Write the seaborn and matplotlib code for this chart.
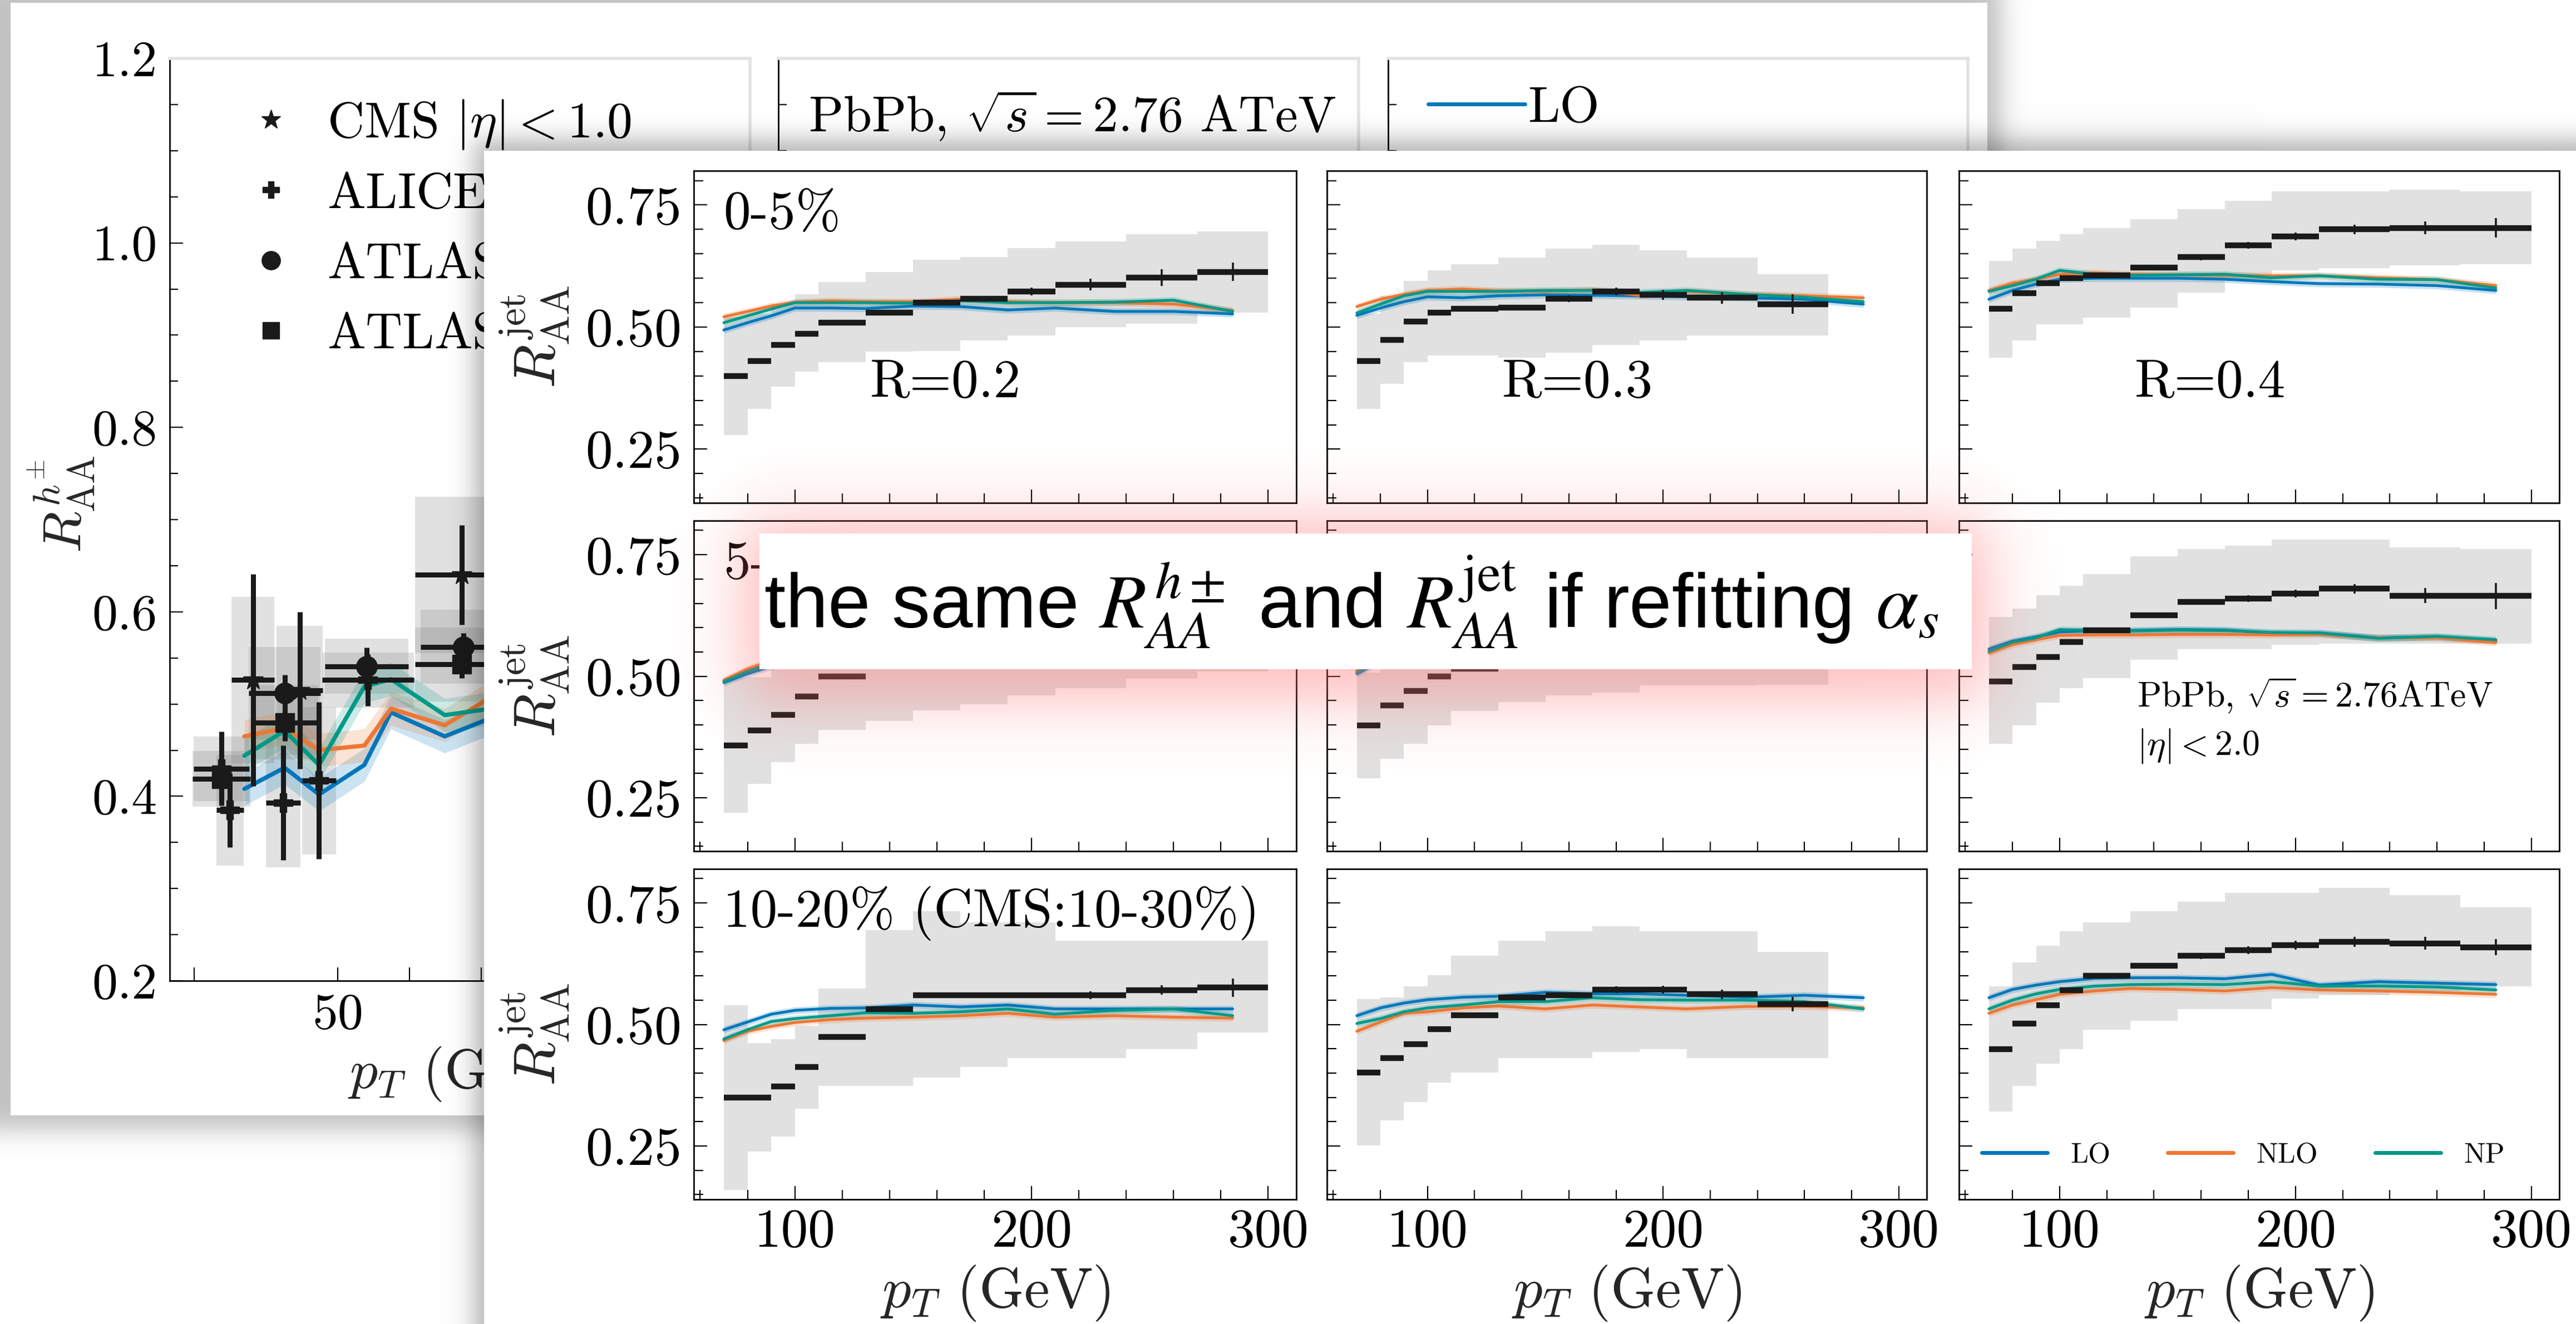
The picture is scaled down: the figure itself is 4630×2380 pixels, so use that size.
import numpy as np
import pandas as pd
import matplotlib
matplotlib.use("Agg")
import matplotlib.pyplot as plt
import seaborn as sns
from matplotlib.patches import Rectangle
from matplotlib.lines import Line2D
from matplotlib import font_manager

# ======================= DATA =======================
# ---- back figure: charged hadron R_AA (visible part) ----
cms_pt = [38.2, 44.7, 67.3]
cms_raa = [0.526, 0.515, 0.640]
cms_xerr = [3.0, 3.2, 6.5]
cms_err = [0.115, 0.085, 0.054]
cms_sys = [0.09, 0.07, 0.085]

alice_pt = [33.8, 35.0, 42.4, 47.4, 54.2]
alice_raa = [0.430, 0.385, 0.393, 0.417, 0.526]
alice_xerr = [3.9, 1.9, 2.4, 2.4, 6.4]
alice_err = [0.04, 0.04, 0.062, 0.085, 0.028]
alice_sys = [0.035, 0.06, 0.07, 0.08, 0.03]

atlas1_pt = [42.6, 54.0, 67.5]
atlas1_raa = [0.512, 0.541, 0.562]
atlas1_xerr = [5.0, 5.8, 6.0]
atlas1_err = [0.02, 0.02, 0.015]
atlas1_sys = [0.05, 0.03, 0.04]

atlas2_pt = [33.8, 42.6, 67.3]
atlas2_raa = [0.419, 0.480, 0.543]
atlas2_xerr = [4.0, 4.7, 6.5]
atlas2_err = [0.02, 0.02, 0.015]
atlas2_sys = [0.03, 0.04, 0.04]

had_th_pt = [37.0, 42.6, 47.4, 53.7, 57.4, 64.9, 70.4, 76.0]
had_lo = [0.408, 0.431, 0.402, 0.434, 0.491, 0.465, 0.482, 0.490]
had_nlo = [0.465, 0.474, 0.450, 0.455, 0.495, 0.477, 0.503, 0.510]
had_np = [0.444, 0.471, 0.434, 0.519, 0.527, 0.488, 0.494, 0.500]

HAD_LEG_LABELS = [r"CMS $|\eta| < 1.0$", r"ALICE $|\eta| < 0.8$",
                  r"ATLAS $|\eta| < 2.0$", r"ATLAS $|\eta| < 1.0$"]
HAD_YTICKS = [0.2, 0.4, 0.6, 0.8, 1.0, 1.2]
HAD_YTICKLABELS = ["0.2", "0.4", "0.6", "0.8", "1.0", "1.2"]
HAD_XTICKS = [30, 50, 60, 70, 80, 90, 100]
HAD_XTICKLABELS = ["", "50", "", "", "", "", "100"]

# ---- front figure: jet R_AA ----
EDGES_A = [70, 80, 90, 100, 110, 130, 150, 170, 190, 210, 240, 270, 300]
EDGES_B = [70, 80, 90, 100, 110, 130, 150, 170, 190, 210, 240, 270]
THEORY_PT = [70, 80, 90, 100, 115, 130, 150, 170, 190, 210, 235, 260, 285]

r1c1_y = [0.400, 0.430, 0.463, 0.486, 0.509, 0.530, 0.550, 0.558, 0.573, 0.587, 0.601, 0.613]
r1c1_err = [0.004, 0.004, 0.004, 0.005, 0.005, 0.005, 0.006, 0.006, 0.008, 0.012, 0.017, 0.019]
r1c1_sys_lo = [0.279, 0.333, 0.378, 0.409, 0.428, 0.450, 0.451, 0.473, 0.483, 0.500, 0.507, 0.529]
r1c1_sys_hi = [0.521, 0.527, 0.548, 0.567, 0.592, 0.613, 0.638, 0.644, 0.662, 0.675, 0.690, 0.696]
r1c1_lo = [0.494, 0.509, 0.523, 0.539, 0.539, 0.538, 0.543, 0.542, 0.535, 0.539, 0.532, 0.532, 0.527]
r1c1_nlo = [0.521, 0.532, 0.543, 0.551, 0.554, 0.552, 0.552, 0.557, 0.552, 0.550, 0.550, 0.547, 0.534]
r1c1_np = [0.509, 0.523, 0.537, 0.550, 0.550, 0.550, 0.549, 0.554, 0.550, 0.550, 0.551, 0.555, 0.532]

r1c2_y = [0.430, 0.474, 0.511, 0.529, 0.537, 0.540, 0.558, 0.573, 0.566, 0.560, 0.547]
r1c2_err = [0.004, 0.004, 0.004, 0.005, 0.005, 0.006, 0.007, 0.008, 0.010, 0.012, 0.020]
r1c2_sys_lo = [0.333, 0.384, 0.428, 0.442, 0.442, 0.437, 0.447, 0.463, 0.473, 0.483, 0.483]
r1c2_sys_hi = [0.527, 0.564, 0.595, 0.616, 0.629, 0.642, 0.660, 0.668, 0.657, 0.642, 0.608]
r1c2_lo = [0.524, 0.539, 0.552, 0.562, 0.560, 0.564, 0.566, 0.565, 0.564, 0.562, 0.560, 0.557, 0.547]
r1c2_nlo = [0.542, 0.557, 0.567, 0.575, 0.578, 0.574, 0.573, 0.576, 0.565, 0.573, 0.567, 0.564, 0.560]
r1c2_np = [0.529, 0.547, 0.564, 0.573, 0.573, 0.573, 0.575, 0.575, 0.571, 0.575, 0.567, 0.561, 0.552]

r1c3_y = [0.537, 0.569, 0.590, 0.600, 0.606, 0.622, 0.643, 0.667, 0.686, 0.700, 0.703, 0.703]
r1c3_err = [0.004, 0.004, 0.005, 0.005, 0.005, 0.006, 0.006, 0.007, 0.008, 0.010, 0.013, 0.020]
r1c3_sys_lo = [0.437, 0.473, 0.506, 0.506, 0.519, 0.540, 0.570, 0.595, 0.616, 0.621, 0.626, 0.629]
r1c3_sys_hi = [0.635, 0.660, 0.677, 0.690, 0.703, 0.721, 0.741, 0.759, 0.778, 0.778, 0.781, 0.778]
r1c3_lo = [0.557, 0.575, 0.588, 0.598, 0.600, 0.600, 0.600, 0.598, 0.593, 0.589, 0.588, 0.585, 0.575]
r1c3_nlo = [0.575, 0.590, 0.598, 0.608, 0.611, 0.608, 0.607, 0.606, 0.605, 0.605, 0.601, 0.597, 0.585]
r1c3_np = [0.573, 0.585, 0.598, 0.616, 0.608, 0.606, 0.607, 0.608, 0.601, 0.605, 0.598, 0.597, 0.580]

r2c1_y = [0.358, 0.388, 0.420, 0.458, 0.500, 0.525, 0.545, 0.555, 0.570, 0.585, 0.600, 0.615]
r2c1_err = [0.004, 0.004, 0.004, 0.005, 0.005, 0.005, 0.006, 0.006, 0.008, 0.012, 0.016, 0.020]
r2c1_sys_lo = [0.219, 0.278, 0.323, 0.361, 0.390, 0.408, 0.430, 0.442, 0.461, 0.475, 0.495, 0.510]
r2c1_sys_hi = [0.497, 0.498, 0.517, 0.555, 0.610, 0.642, 0.660, 0.668, 0.679, 0.695, 0.705, 0.720]
r2c1_lo = [0.487, 0.505, 0.520, 0.532, 0.535, 0.535, 0.538, 0.538, 0.535, 0.537, 0.533, 0.532, 0.527]
r2c1_nlo = [0.492, 0.515, 0.532, 0.545, 0.549, 0.549, 0.550, 0.553, 0.550, 0.549, 0.549, 0.547, 0.536]
r2c1_np = [0.489, 0.510, 0.527, 0.542, 0.546, 0.547, 0.548, 0.551, 0.549, 0.549, 0.550, 0.551, 0.533]

r2c2_y = [0.399, 0.440, 0.470, 0.500, 0.515, 0.535, 0.550, 0.560, 0.565, 0.565, 0.560]
r2c2_err = [0.004, 0.004, 0.004, 0.005, 0.005, 0.006, 0.007, 0.008, 0.010, 0.012, 0.020]
r2c2_sys_lo = [0.290, 0.330, 0.361, 0.399, 0.428, 0.447, 0.461, 0.466, 0.481, 0.481, 0.482]
r2c2_sys_hi = [0.508, 0.550, 0.579, 0.601, 0.602, 0.623, 0.639, 0.654, 0.649, 0.649, 0.638]
r2c2_lo = [0.505, 0.530, 0.548, 0.558, 0.560, 0.562, 0.565, 0.565, 0.563, 0.562, 0.560, 0.557, 0.547]
r2c2_nlo = [0.512, 0.540, 0.560, 0.570, 0.574, 0.573, 0.572, 0.575, 0.566, 0.571, 0.567, 0.564, 0.558]
r2c2_np = [0.508, 0.535, 0.556, 0.567, 0.571, 0.572, 0.573, 0.574, 0.570, 0.573, 0.567, 0.561, 0.552]

r2c3_y = [0.489, 0.519, 0.539, 0.570, 0.595, 0.625, 0.653, 0.660, 0.670, 0.680, 0.666, 0.665]
r2c3_err = [0.004, 0.004, 0.005, 0.005, 0.005, 0.005, 0.006, 0.007, 0.008, 0.010, 0.015, 0.027]
r2c3_sys_lo = [0.361, 0.399, 0.446, 0.475, 0.496, 0.534, 0.556, 0.556, 0.565, 0.567, 0.567, 0.567]
r2c3_sys_hi = [0.622, 0.639, 0.667, 0.686, 0.710, 0.747, 0.762, 0.769, 0.781, 0.781, 0.765, 0.762]
r2c3_lo = [0.556, 0.572, 0.581, 0.591, 0.594, 0.594, 0.596, 0.595, 0.589, 0.589, 0.579, 0.581, 0.573]
r2c3_nlo = [0.548, 0.565, 0.575, 0.584, 0.585, 0.585, 0.586, 0.586, 0.585, 0.586, 0.579, 0.579, 0.569]
r2c3_np = [0.551, 0.570, 0.579, 0.596, 0.594, 0.593, 0.595, 0.594, 0.590, 0.589, 0.578, 0.582, 0.575]

r3c1_y = [0.349, 0.349, 0.372, 0.412, 0.474, 0.531, 0.560, 0.560, 0.560, 0.560, 0.571, 0.576]
r3c1_err = [0.004, 0.004, 0.004, 0.005, 0.005, 0.005, 0.006, 0.006, 0.006, 0.008, 0.010, 0.019]
r3c1_sys_lo = [0.160, 0.239, 0.269, 0.327, 0.374, 0.374, 0.391, 0.413, 0.431, 0.431, 0.449, 0.483]
r3c1_sys_hi = [0.540, 0.462, 0.470, 0.497, 0.574, 0.694, 0.733, 0.710, 0.710, 0.672, 0.672, 0.672]
r3c1_lo = [0.489, 0.505, 0.521, 0.529, 0.533, 0.534, 0.540, 0.536, 0.540, 0.532, 0.532, 0.532, 0.532]
r3c1_nlo = [0.467, 0.486, 0.496, 0.504, 0.510, 0.513, 0.515, 0.518, 0.523, 0.515, 0.518, 0.515, 0.513]
r3c1_np = [0.470, 0.489, 0.506, 0.512, 0.518, 0.524, 0.523, 0.526, 0.532, 0.521, 0.529, 0.532, 0.518]

r3c2_y = [0.401, 0.431, 0.459, 0.490, 0.519, 0.555, 0.560, 0.572, 0.572, 0.562, 0.542]
r3c2_err = [0.004, 0.004, 0.004, 0.005, 0.005, 0.005, 0.006, 0.007, 0.008, 0.010, 0.015]
r3c2_sys_lo = [0.251, 0.303, 0.340, 0.380, 0.401, 0.431, 0.431, 0.443, 0.449, 0.431, 0.431]
r3c2_sys_hi = [0.552, 0.556, 0.579, 0.601, 0.641, 0.672, 0.692, 0.702, 0.692, 0.692, 0.649]
r3c2_lo = [0.518, 0.534, 0.544, 0.551, 0.556, 0.558, 0.566, 0.563, 0.563, 0.560, 0.556, 0.560, 0.555]
r3c2_nlo = [0.486, 0.505, 0.523, 0.526, 0.534, 0.538, 0.532, 0.540, 0.536, 0.532, 0.537, 0.537, 0.534]
r3c2_np = [0.502, 0.512, 0.526, 0.534, 0.540, 0.547, 0.547, 0.555, 0.551, 0.550, 0.550, 0.547, 0.532]

r3c3_y = [0.449, 0.502, 0.540, 0.571, 0.600, 0.621, 0.641, 0.653, 0.663, 0.670, 0.667, 0.659]
r3c3_err = [0.004, 0.004, 0.004, 0.005, 0.005, 0.005, 0.006, 0.008, 0.009, 0.010, 0.013, 0.017]
r3c3_sys_lo = [0.321, 0.374, 0.419, 0.449, 0.489, 0.508, 0.531, 0.531, 0.553, 0.560, 0.569, 0.578]
r3c3_sys_hi = [0.579, 0.628, 0.662, 0.692, 0.710, 0.733, 0.752, 0.771, 0.771, 0.781, 0.766, 0.741]
r3c3_lo = [0.555, 0.572, 0.581, 0.588, 0.595, 0.596, 0.596, 0.594, 0.603, 0.581, 0.588, 0.585, 0.582]
r3c3_nlo = [0.523, 0.540, 0.551, 0.562, 0.569, 0.574, 0.572, 0.569, 0.576, 0.571, 0.569, 0.566, 0.562]
r3c3_np = [0.532, 0.550, 0.563, 0.572, 0.579, 0.582, 0.583, 0.582, 0.588, 0.579, 0.579, 0.577, 0.571]

CENT_LABELS = ["0-5%", "5-10%", "10-20% (CMS:10-30%)"]
RADIUS_LABELS = ["R=0.2", "R=0.3", "R=0.4"]
MODEL_LABELS = ["LO", "NLO", "NP"]
FRONT_YTICKS = [0.25, 0.50, 0.75]
FRONT_YTICKLABELS = ["0.25", "0.50", "0.75"]
FRONT_XTICKS = [100, 200, 300]
FRONT_XTICKLABELS = ["100", "200", "300"]
BANNER_TEXT = r"the same $R_{AA}^{h\pm}$ and $R_{AA}^{\mathrm{jet}}$ if refitting $\alpha_s$"

# ======================= STYLE =======================
sns.set_theme(style="ticks")
plt.rcParams.update({
    "font.family": ["cmr10", "DejaVu Serif"],
    "mathtext.fontset": "cm",
    "axes.unicode_minus": False,
    "axes.formatter.use_mathtext": True,
    "axes.edgecolor": "black",
    "xtick.color": "black",
    "ytick.color": "black",
    "text.color": "black",
})
C_LO, C_NLO, C_NP = "#0077BB", "#EE7733", "#009988"
MODEL_COLORS = [C_LO, C_NLO, C_NP]

_installed = {f.name for f in font_manager.fontManager.ttflist}
if "Liberation Sans Narrow" in _installed:
    BANNER_FAMILY, BANNER_FS = ["Liberation Sans Narrow", "Liberation Sans"], 114
else:
    BANNER_FAMILY, BANNER_FS = ["Liberation Sans", "DejaVu Sans"], 99

W, H = 4630, 2380
fig = plt.figure(figsize=(W / 100, H / 100), dpi=100)
fig.patch.set_facecolor("white")

gx = np.linspace(0, W, 1158)
gy = np.linspace(0, H, 596)
GX, GY = np.meshgrid(gx, gy)


def sig(t):
    return 1.0 / (1.0 + np.exp(-np.clip(t, -60, 60)))


def soft_box(x0, x1, y0, y1, s):
    return sig((GX - x0) / s) * sig((x1 - GX) / s) * sig((GY - y0) / s) * sig((y1 - GY) / s)


def full_axes(z):
    a = fig.add_axes([0, 0, 1, 1])
    a.set_zorder(z)
    a.axis("off")
    return a


def add_ax(x0, y0, x1, y1, z):
    a = fig.add_axes([x0 / W, 1 - y1 / H, (x1 - x0) / W, (y1 - y0) / H])
    a.set_zorder(z)
    return a


# ---- background + back slide ----
bg = full_axes(0)
sh = 0.24 * soft_box(-60, 3598, -40, 2032, 13)
bg.imshow(np.dstack([1 - sh] * 3), extent=[0, W, H, 0], interpolation="bilinear", aspect="auto")
bg.add_patch(Rectangle((19, 5), 3553, 2000, facecolor="white", edgecolor="none", zorder=3))
bg.set_xlim(0, W)
bg.set_ylim(H, 0)

# ---- back figure axes ----
BACK_FS = 66


def style_back(ax):
    ax.set_facecolor("white")
    ax.set_xlim(26.6, 107.4)
    ax.set_ylim(0.2, 1.2)
    for s in ["left", "bottom"]:
        ax.spines[s].set_color("black")
        ax.spines[s].set_linewidth(2.0)
    for s in ["top", "right"]:
        ax.spines[s].set_color("#e3e3e3")
        ax.spines[s].set_linewidth(4.0)
    ax.set_yticks(HAD_YTICKS, labels=HAD_YTICKLABELS)
    ax.set_yticks(np.arange(0.25, 1.2, 0.05), minor=True)
    ax.set_xticks(HAD_XTICKS, labels=HAD_XTICKLABELS)
    ax.tick_params(which="both", direction="in", top=False, right=False, width=1.6,
                   labelsize=BACK_FS, pad=16)
    ax.tick_params(which="major", length=17)
    ax.tick_params(which="minor", length=11)


ax_h1 = add_ax(305, 105, 1348, 1763, 1)
ax_h2 = add_ax(1399, 105, 2442, 1763, 1)
ax_h3 = add_ax(2495, 105, 3537, 1763, 1)
for a in (ax_h1, ax_h2, ax_h3):
    style_back(a)
for a in (ax_h2, ax_h3):
    a.tick_params(labelleft=False, labelbottom=False)

series = [
    (cms_pt, cms_raa, cms_xerr, cms_err, cms_sys, "*", 28),
    (alice_pt, alice_raa, alice_xerr, alice_err, alice_sys, "P", 24),
    (atlas1_pt, atlas1_raa, atlas1_xerr, atlas1_err, atlas1_sys, "o", 27),
    (atlas2_pt, atlas2_raa, atlas2_xerr, atlas2_err, atlas2_sys, "s", 24),
]
for pt, raa, xe, ye, sy, mk, ms in series:
    pt, raa, xe, sy = map(np.asarray, (pt, raa, xe, sy))
    ax_h1.bar(pt, 2 * sy, bottom=raa - sy, width=2 * xe, color="#7a7a7a", alpha=0.22,
              linewidth=0, zorder=1)

for vals, c in zip([had_lo, had_nlo, had_np], MODEL_COLORS):
    v = np.asarray(vals)
    ax_h1.fill_between(had_th_pt, v - 0.018, v + 0.018, color=c, alpha=0.2, linewidth=0, zorder=2)
    sns.lineplot(x=had_th_pt, y=vals, ax=ax_h1, color=c, linewidth=5.5, zorder=3)

for pt, raa, xe, ye, sy, mk, ms in series:
    ax_h1.errorbar(pt, raa, xerr=xe, yerr=ye, fmt=mk, color="k", ms=ms, elinewidth=6.5,
                   capsize=0, zorder=5)

ax_h1.set_xlim(26.6, 107.4)
ax_h1.set_ylim(0.2, 1.2)
ax_h1.set_ylabel(r"$R_{\rm AA}^{h^{\pm}}$", fontsize=70)
ax_h1.yaxis.set_label_coords(-0.186, 0.517)
ax_h1.yaxis.label.set_va("center")
ax_h1.set_xlabel(r"$p_T$ (GeV)", fontsize=72)
ax_h1.xaxis.set_label_coords(0.5, -0.101)
ax_h1.xaxis.label.set_va("center")

had_handles = [Line2D([], [], marker=m, ls="none", color="k", ms=s)
               for m, s in zip(["*", "P", "o", "s"], [26, 22, 24, 22])]
ax_h1.legend(had_handles, HAD_LEG_LABELS, loc="upper left", bbox_to_anchor=(0.131, 0.957),
             frameon=False, fontsize=BACK_FS, handlelength=1.0, handletextpad=0.6,
             labelspacing=0.33, borderpad=0, borderaxespad=0)

ax_h2.text(0.052, 0.938, r"PbPb, $\sqrt{s} = 2.76$ ATeV", transform=ax_h2.transAxes,
           fontsize=BACK_FS, va="center", ha="left")

back_model_handles = [Line2D([], [], color=c, lw=5) for c in MODEL_COLORS]
ax_h3.legend(back_model_handles, MODEL_LABELS, loc="upper left", bbox_to_anchor=(0.069, 0.97),
             frameon=False, fontsize=BACK_FS, handlelength=1.9, handletextpad=0.05,
             labelspacing=0.8, borderpad=0, borderaxespad=0)

# ---- front slide (shadow + white sheet) ----
fo = full_axes(2)
a_sh = 0.30 * soft_box(852, 4700, 250, 2600, 13)
rgba = np.zeros(a_sh.shape + (4,))
rgba[..., 3] = a_sh
fo.imshow(rgba, extent=[0, W, H, 0], interpolation="bilinear", aspect="auto")
fo.add_patch(Rectangle((870, 271), 3900, 2300, facecolor="white", edgecolor="none", zorder=3))
fo.set_xlim(0, W)
fo.set_ylim(H, 0)

# ---- front figure: 3x3 panels ----
COL_X = [(1247, 2330), (2385, 3463), (3521, 4600)]
ROW_Y = [(307, 904), (936, 1530), (1562, 2156)]
PANELS = [
    (0, 0, EDGES_A, r1c1_y, r1c1_err, r1c1_sys_lo, r1c1_sys_hi, r1c1_lo, r1c1_nlo, r1c1_np),
    (0, 1, EDGES_B, r1c2_y, r1c2_err, r1c2_sys_lo, r1c2_sys_hi, r1c2_lo, r1c2_nlo, r1c2_np),
    (0, 2, EDGES_A, r1c3_y, r1c3_err, r1c3_sys_lo, r1c3_sys_hi, r1c3_lo, r1c3_nlo, r1c3_np),
    (1, 0, EDGES_A, r2c1_y, r2c1_err, r2c1_sys_lo, r2c1_sys_hi, r2c1_lo, r2c1_nlo, r2c1_np),
    (1, 1, EDGES_B, r2c2_y, r2c2_err, r2c2_sys_lo, r2c2_sys_hi, r2c2_lo, r2c2_nlo, r2c2_np),
    (1, 2, EDGES_A, r2c3_y, r2c3_err, r2c3_sys_lo, r2c3_sys_hi, r2c3_lo, r2c3_nlo, r2c3_np),
    (2, 0, EDGES_A, r3c1_y, r3c1_err, r3c1_sys_lo, r3c1_sys_hi, r3c1_lo, r3c1_nlo, r3c1_np),
    (2, 1, EDGES_B, r3c2_y, r3c2_err, r3c2_sys_lo, r3c2_sys_hi, r3c2_lo, r3c2_nlo, r3c2_np),
    (2, 2, EDGES_A, r3c3_y, r3c3_err, r3c3_sys_lo, r3c3_sys_hi, r3c3_lo, r3c3_nlo, r3c3_np),
]
FRONT_FS = 70

for row, col, edges, y, err, slo, shi, lo, nlo, npv in PANELS:
    x0, x1 = COL_X[col]
    y0, y1 = ROW_Y[row]
    ax = add_ax(x0, y0, x1, y1, 3)
    ax.set_facecolor("white")
    e = np.asarray(edges, dtype=float)
    slo_a, shi_a = np.asarray(slo), np.asarray(shi)
    ax.bar(e[:-1], shi_a - slo_a, bottom=slo_a, width=np.diff(e), align="edge",
           color="#e1e1e1", linewidth=0, zorder=1)
    for vals, c in zip([lo, nlo, npv], MODEL_COLORS):
        v = np.asarray(vals)
        ax.fill_between(THEORY_PT, v - 0.007, v + 0.007, color=c, alpha=0.22, linewidth=0, zorder=2)
        sns.lineplot(x=THEORY_PT, y=vals, ax=ax, color=c, linewidth=3.6, zorder=3)
    centers = 0.5 * (e[:-1] + e[1:])
    hw = 0.5 * np.diff(e)
    ax.errorbar(centers, y, xerr=hw, fmt="none", ecolor="k", elinewidth=7.5, capsize=0, zorder=5)
    ax.errorbar(centers, y, yerr=err, fmt="none", ecolor="k", elinewidth=2.6, capsize=0, zorder=5)

    ax.set_xlim(57.3, 311.9)
    ax.set_ylim(0.14, 0.82)
    ax.set_yticks(FRONT_YTICKS, labels=FRONT_YTICKLABELS if col == 0 else [""] * 3)
    ax.set_yticks(np.arange(0.15, 0.81, 0.05), minor=True)
    ax.set_xticks(FRONT_XTICKS, labels=FRONT_XTICKLABELS if row == 2 else [""] * 3)
    ax.set_xticks([60, 80, 120, 140, 160, 180, 220, 240, 260, 280], minor=True)
    ax.tick_params(which="both", direction="in", top=False, right=False, width=1.6,
                   labelsize=FRONT_FS)
    ax.tick_params(axis="y", pad=16)
    ax.tick_params(axis="x", pad=12)
    ax.tick_params(which="major", length=17)
    ax.tick_params(which="minor", length=12)
    for s in ax.spines.values():
        s.set_color("black")
        s.set_linewidth(2.0)
    ax.set_xlabel("")
    ax.set_ylabel("")
    if col == 0:
        ax.set_ylabel(r"$R_{\rm AA}^{\rm jet}$", fontsize=74)
        ax.yaxis.set_label_coords(-0.265, 0.5)
        ax.yaxis.label.set_va("center")
        ax.text(0.049, 0.866, CENT_LABELS[row], transform=ax.transAxes, fontsize=FRONT_FS,
                va="center", ha="left", zorder=6)
    if row == 0:
        ax.text(0.418, 0.36, RADIUS_LABELS[col], transform=ax.transAxes, fontsize=FRONT_FS,
                va="center", ha="center", zorder=6)
    if row == 2:
        ax.set_xlabel(r"$p_T$ (GeV)", fontsize=74)
        ax.xaxis.set_label_coords(0.5, -0.284)
        ax.xaxis.label.set_va("center")
    if row == 1 and col == 2:
        ax.text(0.297, 0.471, r"PbPb, $\sqrt{s} = 2.76$ATeV", transform=ax.transAxes,
                fontsize=46, va="center", ha="left", zorder=6)
        ax.text(0.297, 0.318, r"$|\eta| < 2.0$", transform=ax.transAxes,
                fontsize=46, va="center", ha="left", zorder=6)
    if row == 2 and col == 2:
        hs = [Line2D([], [], color=c, lw=5) for c in MODEL_COLORS]
        ax.legend(hs, MODEL_LABELS, loc="center left", bbox_to_anchor=(0.038, 0.133), ncol=3,
                  frameon=False, fontsize=37, handlelength=2.3, handletextpad=0.8,
                  columnspacing=2.0, borderpad=0, borderaxespad=0)

# ---- banner with red glow ----
bn = full_axes(4)
g = 0.45 * soft_box(1365 - 30, 3544 + 30, 959 - 25, 1203 + 55, 34)
rgba2 = np.zeros(g.shape + (4,))
rgba2[..., 0] = 1.0
rgba2[..., 1] = 0.42
rgba2[..., 2] = 0.42
rgba2[..., 3] = g
bn.imshow(rgba2, extent=[0, W, H, 0], interpolation="bilinear", aspect="auto")
bn.add_patch(Rectangle((1365, 959), 2179, 244, facecolor="white", edgecolor="none", zorder=3))
bn.text(1373, 1128, BANNER_TEXT, fontsize=BANNER_FS, family=BANNER_FAMILY,
        math_fontfamily="stix", va="baseline", ha="left", zorder=4)
bn.set_xlim(0, W)
bn.set_ylim(H, 0)

fig.savefig("out.png", dpi=100, facecolor="white")
